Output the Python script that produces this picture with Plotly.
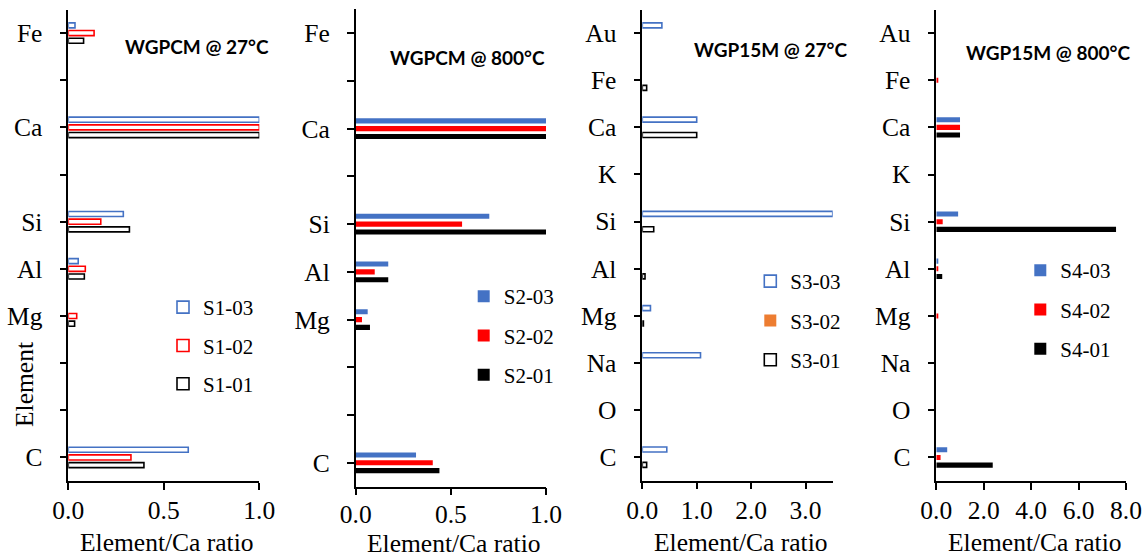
import plotly.graph_objects as go

W, H = 1148, 557

# ---------------- data ----------------
slots_a = ["C", " ", "  ", "Mg", "Al", "Si", "   ", "Ca", "    ", "Fe"]
slots_b = ["C", "O", "Na", "Mg", "Al", "Si", "K", "Ca", "Fe", "Au"]

# panel 1: WGPCM @ 27°C  (order follows slots_a, bottom -> top)
s1_03 = [0.628, None, None, None, 0.052, 0.288, None, 1.0, None, 0.035]
s1_02 = [0.328, None, None, 0.044, 0.089, 0.170, None, 1.0, None, 0.135]
s1_01 = [0.396, None, None, 0.033, 0.084, 0.320, None, 1.0, None, 0.080]

# panel 2: WGPCM @ 800°C
s2_03 = [0.317, None, None, 0.063, 0.171, 0.702, None, 1.0, None, None]
s2_02 = [0.405, None, None, 0.033, 0.100, 0.559, None, 1.0, None, None]
s2_01 = [0.440, None, None, 0.075, 0.171, 1.010, None, 1.0, None, None]

# panel 3: WGP15M @ 27°C (order follows slots_b)
s3_03 = [0.45, None, 1.07, 0.15, None, 3.50, None, 1.0, None, 0.36]
s3_02 = [None, None, None, None, None, None, None, None, None, None]
s3_01 = [0.08, None, None, 0.02, 0.05, 0.21, None, 1.0, 0.08, None]

# panel 4: WGP15M @ 800°C
s4_03 = [0.46, None, None, None, 0.07, 0.92, None, 1.0, None, None]
s4_02 = [0.18, None, None, 0.06, 0.06, 0.27, None, 1.0, 0.06, None]
s4_01 = [2.38, None, None, None, 0.25, 7.58, None, 1.0, None, None]

titles = ["WGPCM @ 27°C", "WGPCM @ 800°C", "WGP15M @ 27°C", "WGP15M @ 800°C"]
x_title = "Element/Ca ratio"
y_title = "Element"

BLUE, RED, BLACK, ORANGE = "#4472C4", "#FF0000", "#000000", "#ED7D31"
SERIF = "Liberation Serif"

# layout geometry (pixels)
dom_x = [(68.3, 259.3), (355.7, 546.0), (642.3, 832.7), (936.3, 1126.0)]
dom_y = [(9.5, 481.0), (9.3, 486.7), (9.5, 480.7), (9.5, 481.0)]
title_pos = [(196.5, 46.5), (467.5, 57.5), (770.0, 49.0), (1047.5, 52.5)]
legend_pos = [(163, 287), (463.7, 276), (750.3, 261), (1020.3, 250)]
legend_gap = [8, 9, 9, 9]
xtitle_y = [542, 543.5, 542, 542]
xlabel_standoff = [-1, -3, -1, -1]

panels = [
    dict(slots=slots_a, xr=[0, 1.0], dtick=0.5,
         series=[("S1-01", s1_01, BLACK, False), ("S1-02", s1_02, RED, False), ("S1-03", s1_03, BLUE, False)]),
    dict(slots=slots_a, xr=[0, 1.0], dtick=0.5,
         series=[("S2-01", s2_01, BLACK, True), ("S2-02", s2_02, RED, True), ("S2-03", s2_03, BLUE, True)]),
    dict(slots=slots_b, xr=[0, 3.5], dtick=1.0,
         series=[("S3-01", s3_01, BLACK, False), ("S3-02", s3_02, ORANGE, True), ("S3-03", s3_03, BLUE, False)]),
    dict(slots=slots_b, xr=[0, 8.0], dtick=2.0,
         series=[("S4-01", s4_01, BLACK, True), ("S4-02", s4_02, RED, True), ("S4-03", s4_03, BLUE, True)]),
]

px = lambda v: v / W
py = lambda v: 1 - v / H

fig = go.Figure()
layout = {}
annotations = []
for i, p in enumerate(panels):
    n = "" if i == 0 else str(i + 1)
    leg = "legend" if i == 0 else f"legend{i+1}"
    nser = len(p["series"])
    for k, (name, vals, col, filled) in enumerate(p["series"]):
        fig.add_trace(go.Bar(
            x=vals, y=p["slots"], orientation="h", name=name,
            xaxis="x" + n, yaxis="y" + n, legend=leg, legendgroup=f"{i}-{k}",
            legendrank=nser - k,
            marker=dict(color=col if filled else "white",
                        line=dict(color=col, width=0 if filled else 1.6)),
            hoverinfo="x+y+name",
        ))
    layout["xaxis" + n] = dict(
        domain=[px(dom_x[i][0]), px(dom_x[i][1])], anchor="y" + n,
        range=p["xr"], dtick=p["dtick"], tick0=0, tickformat=".1f",
        showline=True, linecolor="black", linewidth=1.5,
        ticks="outside", ticklen=7, tickwidth=1.5, tickcolor="black",
        ticklabelstandoff=xlabel_standoff[i],
        showgrid=False, zeroline=False, fixedrange=True, automargin=False,
        tickfont=dict(family=SERIF, size=25.5, color="black"),
    )
    layout["yaxis" + n] = dict(
        domain=[py(dom_y[i][1]), py(dom_y[i][0])], anchor="x" + n,
        type="category", categoryorder="array", categoryarray=p["slots"],
        range=[-0.5, len(p["slots"]) - 0.5],
        showline=True, linecolor="black", linewidth=1.5,
        ticks="outside", ticklen=7, tickwidth=1.5, tickcolor="black",
        ticklabelstandoff=12,
        showgrid=False, zeroline=False, fixedrange=True, automargin=False,
        tickfont=dict(family=SERIF, size=25.5, color="black"),
    )
    layout[leg] = dict(
        x=px(legend_pos[i][0]), y=py(legend_pos[i][1]), xanchor="left", yanchor="top",
        traceorder="grouped", tracegroupgap=legend_gap[i],
        bgcolor="rgba(0,0,0,0)", borderwidth=0,
        font=dict(family=SERIF, size=21, color="black"),
    )
    annotations.append(dict(
        x=px(title_pos[i][0]), y=py(title_pos[i][1]), xref="paper", yref="paper",
        text=f"<b>{titles[i]}</b>", showarrow=False, xanchor="center", yanchor="middle",
        font=dict(family="Lato", size=19, color="black"),
    ))
    annotations.append(dict(
        x=px((dom_x[i][0] + dom_x[i][1]) / 2 + 3), y=py(xtitle_y[i]), xref="paper", yref="paper",
        text=x_title, showarrow=False, xanchor="center", yanchor="middle",
        font=dict(family=SERIF, size=25.5, color="black"),
    ))

annotations.append(dict(
    x=px(24), y=py(385), xref="paper", yref="paper", text=y_title, textangle=-90,
    showarrow=False, xanchor="center", yanchor="middle",
    font=dict(family=SERIF, size=25.5, color="black"),
))

fig.update_layout(
    width=W, height=H, margin=dict(l=0, r=0, t=0, b=0, autoexpand=False),
    paper_bgcolor="white", plot_bgcolor="white",
    barmode="group", bargap=0.51, bargroupgap=0.35,
    font=dict(family=SERIF, size=25.5, color="black"),
    annotations=annotations, showlegend=True,
    **layout,
)

fig.write_html(
    "out.html",
    config={"displayModeBar": False},
    post_script="document.body.style.margin='0';document.body.style.overflow='hidden';",
)
